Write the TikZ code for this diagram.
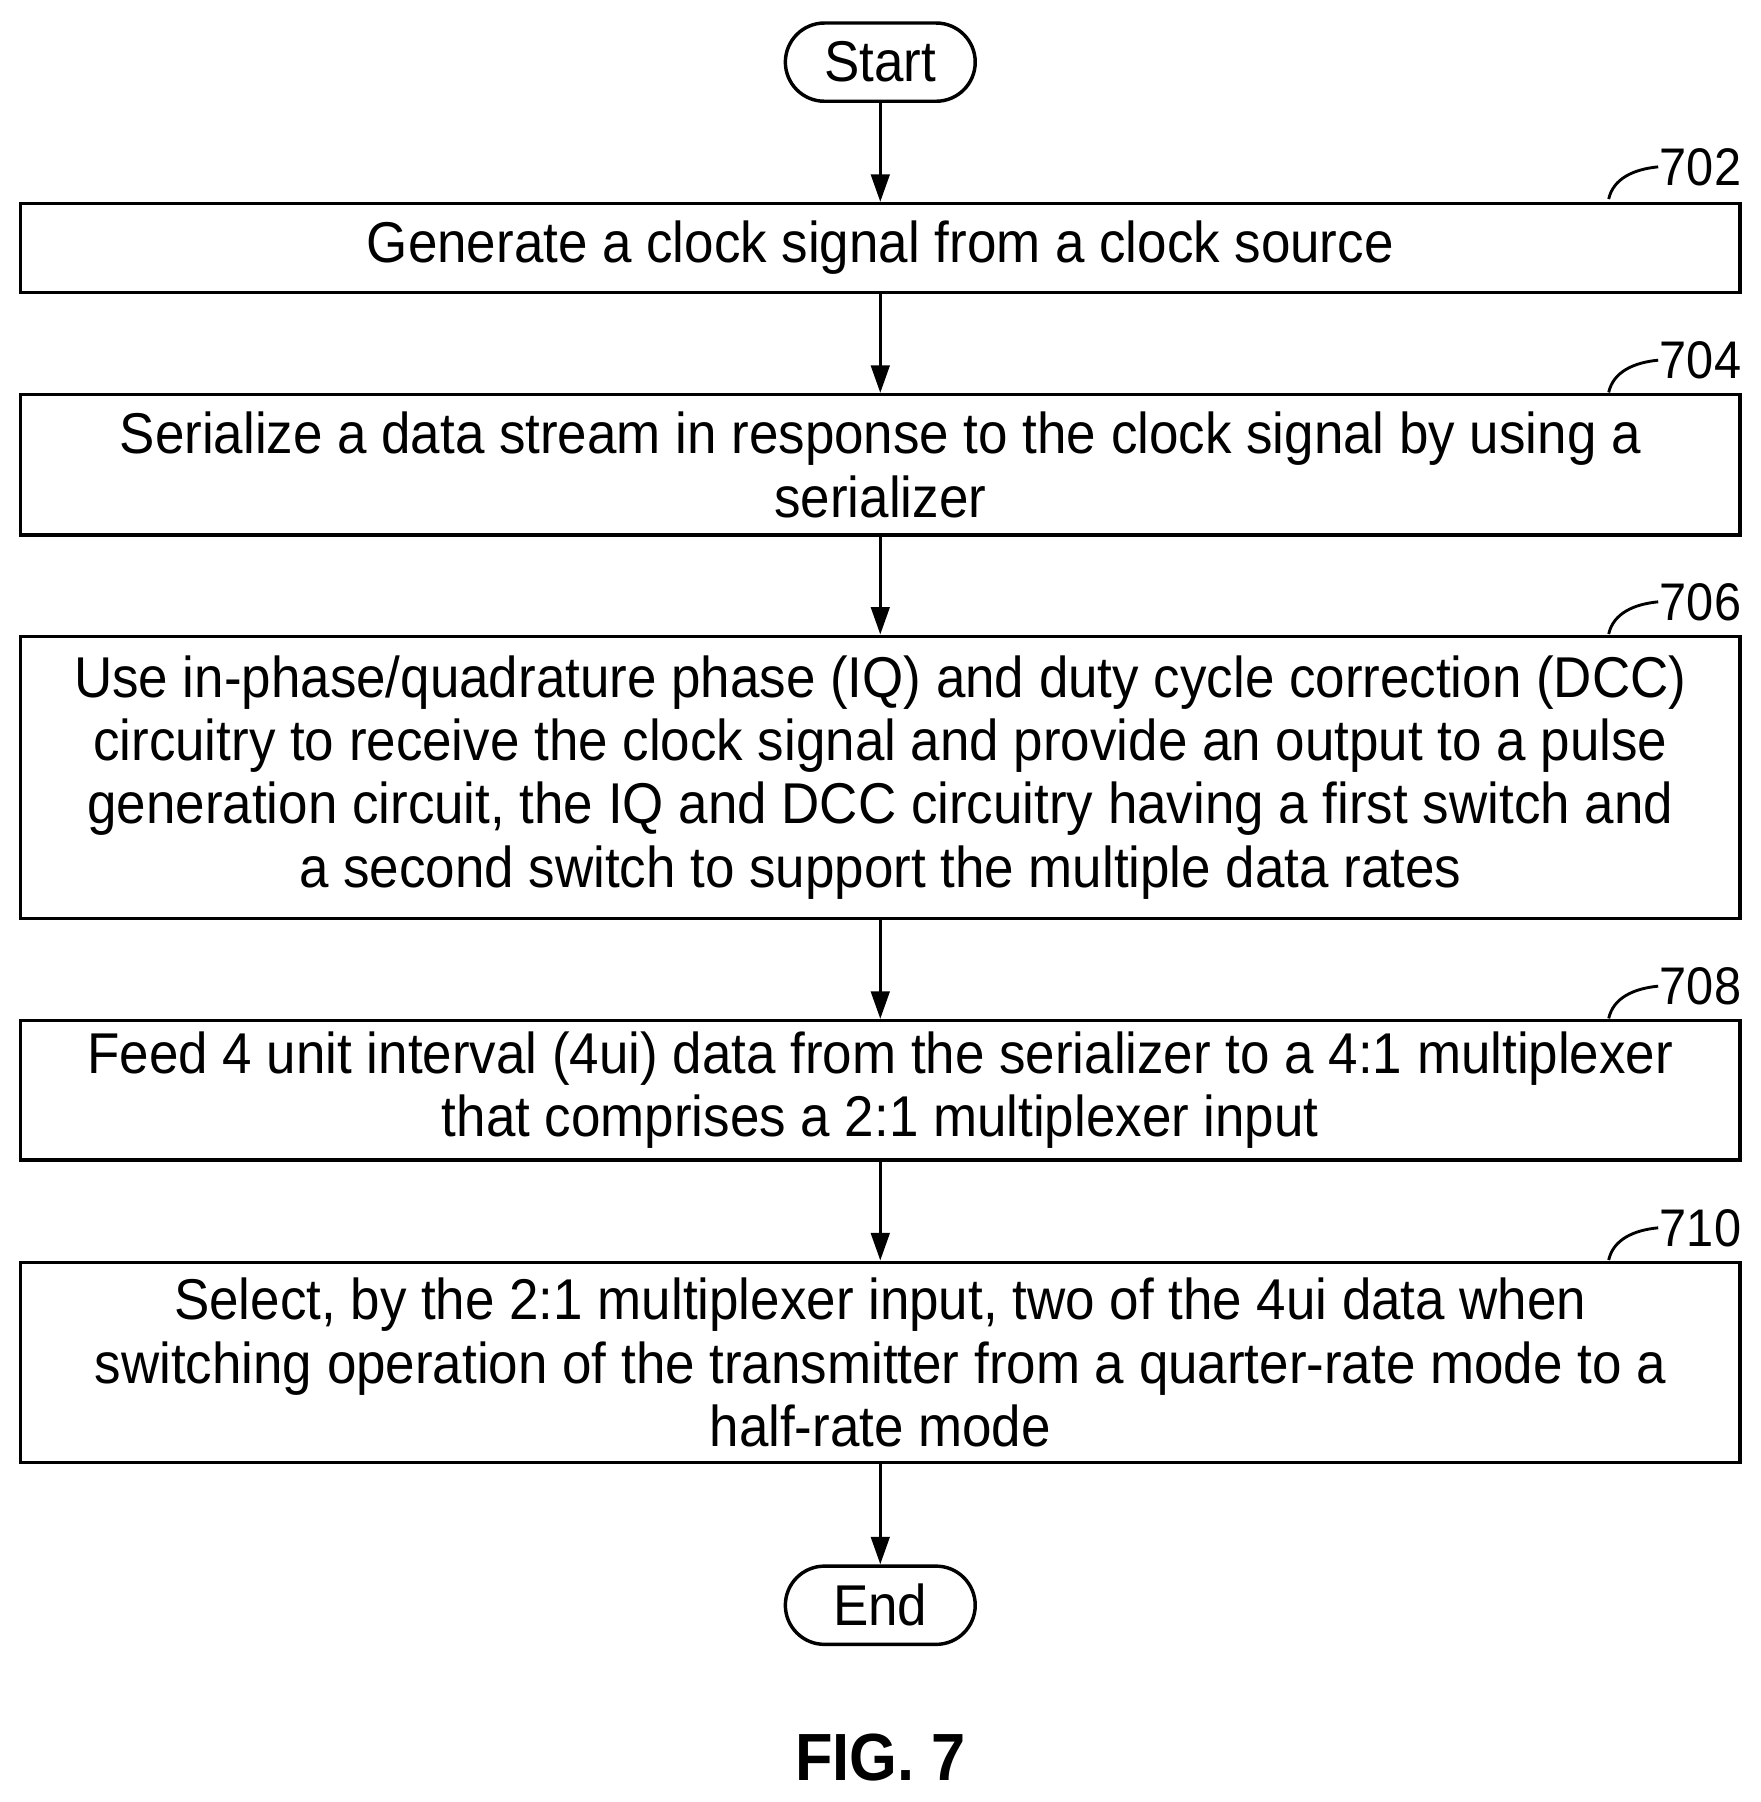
\documentclass[tikz,border=0pt]{standalone}
\usepackage{fontspec}
\setmainfont{Liberation Sans}[FakeStretch=0.92]
\usetikzlibrary{arrows.meta}
\begin{document}
\begin{tikzpicture}[x=1pt,y=-1pt,line width=3pt,
  box/.style={draw,minimum width=1494pt,align=center,inner sep=0pt,font=\fontsize{50}{55}\selectfont},
  term/.style={draw,rounded corners=34pt,minimum width=165pt,minimum height=68pt,font=\fontsize{50}{55}\selectfont},
  arr/.style={-{Triangle[length=24pt,width=16pt]}},
  lab/.style={font=\fontsize{46}{50}\selectfont,anchor=west,inner sep=0pt}]
\useasboundingbox (0,0) rectangle (1530,1566);
\node[term] (s) at (765,54) {Start};
\node[box,minimum height=77pt] (b1) at (765,215.5) {Generate a clock signal from a clock source};
\node[box,minimum height=122pt] (b2) at (765,404) {Serialize a data stream in response to the clock signal by using a\\serializer};
\node[box,minimum height=245pt] (b3) at (765,675.5) {Use in-phase/quadrature phase (IQ) and duty cycle correction (DCC)\\circuitry to receive the clock signal and provide an output to a pulse\\generation circuit, the IQ and DCC circuitry having a first switch and\\a second switch to support the multiple data rates};
\node[box,minimum height=121pt] (b4) at (765,947.5) {Feed 4 unit interval (4ui) data from the serializer to a 4:1 multiplexer\\that comprises a 2:1 multiplexer input};
\node[box,minimum height=174pt] (b5) at (765,1184) {Select, by the 2:1 multiplexer input, two of the 4ui data when\\switching operation of the transmitter from a quarter-rate mode to a\\half-rate mode};
\node[term] (e) at (765,1395) {End};
\draw[arr] (s) -- (b1);
\draw[arr] (b1) -- (b2);
\draw[arr] (b2) -- (b3);
\draw[arr] (b3) -- (b4);
\draw[arr] (b4) -- (b5);
\draw[arr] (b5) -- (e);
\foreach \b/\n/\y in {b1/702/145,b2/704/313,b3/706/523,b4/708/857,b5/710/1067}{
  \node[lab] (l\n) at (1441,\y) {\n};
  \draw[line width=2.5pt] (1398,\y+28) .. controls (1402,\y+10) and (1420,\y+2) .. (l\n.west);
}
\node[font=\bfseries\fontsize{58}{62}\selectfont] (fig) at (765,1527) {FIG. 7};
\end{tikzpicture}
\end{document}
